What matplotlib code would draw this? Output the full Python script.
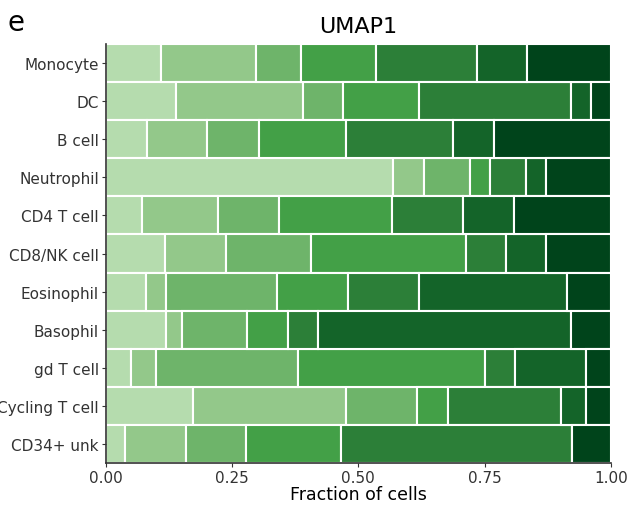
import numpy as np
import matplotlib
matplotlib.use("Agg")
import matplotlib.pyplot as plt

# cell types, top to bottom
cell_types = ["Monocyte", "DC", "B cell", "Neutrophil", "CD4 T cell", "CD8/NK cell",
              "Eosinophil", "Basophil", "gd T cell", "Cycling T cell", "CD34+ unk"]

# fraction of cells in each UMAP1 bin (lightest -> darkest), per cell type
bin1 = [0.109, 0.140, 0.081, 0.569, 0.071, 0.118, 0.080, 0.120, 0.050, 0.172, 0.039]
bin2 = [0.188, 0.250, 0.120, 0.061, 0.151, 0.120, 0.040, 0.030, 0.050, 0.304, 0.120]
bin3 = [0.089, 0.080, 0.102, 0.091, 0.121, 0.168, 0.220, 0.130, 0.280, 0.140, 0.118]
bin4 = [0.150, 0.150, 0.172, 0.040, 0.223, 0.307, 0.140, 0.080, 0.371, 0.061, 0.188]
bin5 = [0.198, 0.301, 0.213, 0.070, 0.141, 0.080, 0.141, 0.060, 0.059, 0.225, 0.458]
bin6 = [0.099, 0.040, 0.080, 0.040, 0.102, 0.079, 0.292, 0.502, 0.141, 0.048, 0.000]
bin7 = [0.167, 0.039, 0.232, 0.129, 0.191, 0.128, 0.087, 0.078, 0.049, 0.050, 0.077]

bins = [bin1, bin2, bin3, bin4, bin5, bin6, bin7]
colors = ["#b5dcae", "#93c88a", "#6eb46a", "#43a047", "#2c7f38", "#146429", "#00441b"]

fig = plt.figure(figsize=(6.37, 5.06), dpi=100)
ax = fig.add_axes([0.166, 0.083, 0.793, 0.828])

y = np.arange(len(cell_types))
left = np.zeros(len(cell_types))
for vals, c in zip(bins, colors):
    vals = np.array(vals)
    ax.barh(y, vals, left=left, height=1.0, color=c, edgecolor="white", linewidth=1.5)
    left += vals

ax.set_yticks(y)
ax.set_yticklabels(cell_types, fontsize=11)
ax.set_ylim(len(cell_types) - 0.5, -0.5)
ax.set_xlim(0, 1)
ax.set_xticks([0, 0.25, 0.5, 0.75, 1.0])
ax.set_xticklabels(["0.00", "0.25", "0.50", "0.75", "1.00"], fontsize=11)
ax.tick_params(colors="#333333", labelcolor="#333333", length=3, pad=2)
ax.set_xlabel("Fraction of cells", fontsize=12.5, labelpad=0)
ax.spines["top"].set_visible(False)
ax.spines["right"].set_visible(False)
ax.spines["left"].set_color("#333333")
ax.spines["bottom"].set_color("#333333")
ax.spines["left"].set_linewidth(1.2)
ax.spines["bottom"].set_linewidth(1.2)

ax.set_title("UMAP1", fontsize=16, pad=9)
fig.text(0.012, 0.955, "e", fontsize=20, va="center")

fig.savefig("out.png", dpi=100)
